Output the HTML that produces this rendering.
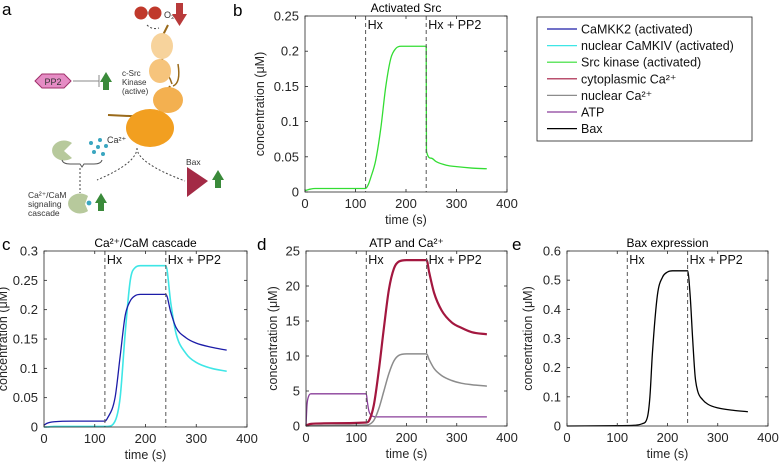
<!DOCTYPE html>
<html><head><meta charset="utf-8"><style>
body{margin:0;background:#fff;}
svg{display:block;font-family:"Liberation Sans",Arial,sans-serif;}
</style></head><body>
<svg id="fig" width="780" height="465" viewBox="0 0 780 465">
<g id="panel-a">
  <text x="2" y="15" font-size="17">a</text>
  <line x1="142" y1="13" x2="155" y2="13" stroke="#aaa" stroke-width="3"/>
  <circle cx="141" cy="13" r="6.5" fill="#c0392b"/>
  <circle cx="155" cy="13" r="6.5" fill="#c0392b"/>
  <text x="164" y="18" font-size="9" fill="#333">O₂</text>
  <path d="M176 3h7v11h4l-7.5 12l-7.5-12h4z" fill="#b83a3a"/>
  <path d="M147 25q5 5 12 3" stroke="#444" fill="none" stroke-dasharray="2,2"/>
  <path d="M168 25l-6 12M163 56l-2 8M170 86l-2 4M150 117l-42 -2" stroke="#9a6a1a" stroke-width="2" fill="none"/>
  <path d="M173 86q8 -3 5 -22M172 84q-3 -10 -9 -14" stroke="#9a6a1a" stroke-width="1.5" fill="none"/>
  <ellipse cx="162" cy="46" rx="11" ry="13" fill="#f7d39c"/>
  <ellipse cx="160" cy="71" rx="11" ry="12" fill="#f6c47c"/>
  <ellipse cx="168" cy="100" rx="15" ry="13" fill="#f3b050"/>
  <ellipse cx="150" cy="128" rx="24" ry="19" fill="#f29f20"/>
  <text x="122" y="76" font-size="8" fill="#333">c-Src</text>
  <text x="122" y="85" font-size="8" fill="#333">Kinase</text>
  <text x="122" y="94" font-size="8" fill="#333">(active)</text>
  <polygon points="35,81 42,74 64,74 71,81 64,88 42,88" fill="#e58cc4" stroke="#a0306a"/>
  <text x="53" y="85" font-size="9" text-anchor="middle" fill="#333">PP2</text>
  <line x1="73" y1="81" x2="99" y2="81" stroke="#888"/><line x1="99" y1="75" x2="99" y2="87" stroke="#888"/>
  <path d="M103 90v-8h-3l6-10l6 10h-3v8z" fill="#3a8a3a"/>
  <path d="M72 143a12 10 0 1 0 0 15l-8-7z" fill="#b7c99c"/>
  <g fill="#3aa6c0"><circle cx="91" cy="143" r="2"/><circle cx="100" cy="140" r="2"/><circle cx="98" cy="147" r="2"/><circle cx="106" cy="146" r="2"/><circle cx="94" cy="152" r="2"/><circle cx="103" cy="154" r="2"/></g>
  <text x="107" y="143" font-size="9" fill="#333">Ca²⁺</text>
  <path d="M62 160q1 4 8 4h10l2 3l2-3h10q7 0 8-4" stroke="#555" fill="none"/>
  <path d="M80 168v25" stroke="#444" stroke-dasharray="2,2"/>
  <path d="M137 148q0 15 -40 32M137 148q0 15 48 33" stroke="#444" fill="none" stroke-dasharray="2,2"/>
  <path d="M88 196a12 10 0 1 0 0 15l-3-7z" fill="#b7c99c"/>
  <circle cx="89" cy="203" r="2.4" fill="#3aa6c0"/>
  <path d="M98 211v-8h-3l6-10l6 10h-3v8z" fill="#3a8a3a"/>
  <text x="28" y="198" font-size="8.5" fill="#333">Ca²⁺/CaM</text>
  <text x="28" y="207" font-size="8.5" fill="#333">signaling</text>
  <text x="28" y="216" font-size="8.5" fill="#333">cascade</text>
  <text x="186" y="165" font-size="8.5" fill="#333">Bax</text>
  <polygon points="187,167 208,181 187,197" fill="#a32a45"/>
  <path d="M215 188v-8h-3l6-10l6 10h-3v8z" fill="#3a8a3a"/>
</g>
<g id="legend">
  <rect x="537" y="17" width="215" height="124" fill="#fff" stroke="#222" stroke-width="0.8"/>
</g>
</svg>
<script>
// ---- data ----
const panelBTitle = "Activated Src";
const srcTimes = [0,5,10,20,50,100,120,125,130,140,150,160,170,180,190,200,240,240.5,250,260,280,300,330,360];
const srcValues = [0.002,0.003,0.004,0.005,0.005,0.005,0.005,0.01,0.02,0.045,0.09,0.15,0.19,0.204,0.207,0.207,0.207,0.058,0.048,0.043,0.038,0.036,0.034,0.033];
const camTimes = [0,5,20,60,120,125,140,150,160,170,180,190,200,240,250,260,280,300,330,360];
const camkk2Values = [0.003,0.006,0.009,0.010,0.010,0.015,0.05,0.12,0.19,0.215,0.224,0.226,0.226,0.226,0.195,0.17,0.152,0.143,0.136,0.131];
const camkivValues = [0,0,0.001,0.001,0.001,0.001,0.01,0.05,0.16,0.25,0.272,0.275,0.275,0.275,0.21,0.16,0.125,0.11,0.1,0.095];
const caTimes = [0,10,60,120,125,135,145,155,165,175,185,200,240,245,255,270,290,310,330,360];
const cytoCaValues = [0.1,0.3,0.4,0.5,0.7,3,8,14,19.5,22.5,23.5,23.7,23.7,22,19,16.5,14.8,14,13.4,13.1];
const nucCaValues = [0,0.05,0.1,0.15,0.2,0.8,2.5,5,7.5,9.3,10.1,10.3,10.3,9.5,8.2,7.2,6.5,6.1,5.9,5.7];
const atpTimes = [0,2,5,10,120,122,125,130,140,150,360];
const atpValues = [0,3,4.2,4.6,4.6,3.5,2.2,1.5,1.3,1.3,1.3];
const baxTimes = [0,100,130,150,160,165,170,180,190,200,210,240,245,250,255,260,270,280,300,330,360];
const baxValues = [0,0.001,0.002,0.008,0.03,0.1,0.25,0.45,0.51,0.528,0.532,0.532,0.45,0.3,0.17,0.12,0.09,0.075,0.062,0.054,0.049];
const xTicks = [0,100,200,300,400];
const yTicksB = [0,0.05,0.1,0.15,0.2,0.25];
const yTicksC = [0,0.05,0.1,0.15,0.2,0.25,0.3];
const yTicksD = [0,5,10,15,20,25];
const yTicksE = [0,0.1,0.2,0.3,0.4,0.5,0.6];
const eventTimes = [120,240];
const eventLabels = ["Hx","Hx + PP2"];
const legendLabels = ["CaMKK2 (activated)","nuclear CaMKIV (activated)","Src kinase (activated)","cytoplasmic Ca²⁺","nuclear Ca²⁺","ATP","Bax"];
const legendColors = ["#1c1ca8","#3ee6e6","#33dd33","#a3173f","#8c8c8c","#8a3f9a","#000000"];

const NS="http://www.w3.org/2000/svg";
const svg=document.getElementById('fig');
function mk(tag,attrs,parent,text){const e=document.createElementNS(NS,tag);for(const k in attrs)e.setAttribute(k,attrs[k]);if(text!==undefined)e.textContent=text;(parent||svg).appendChild(e);return e;}

// monotone cubic path (Fritsch-Carlson)
function monoPath(px,py){
  const n=px.length;if(n<3)return px.map((x,i)=>(i?'L':'M')+x+' '+py[i]).join(' ');
  const d=[],m=new Array(n);
  for(let i=0;i<n-1;i++)d.push((py[i+1]-py[i])/(px[i+1]-px[i]));
  m[0]=d[0];m[n-1]=d[n-2];
  for(let i=1;i<n-1;i++){m[i]=(d[i-1]*d[i]<=0)?0:(d[i-1]+d[i])/2;}
  for(let i=0;i<n-1;i++){
    if(d[i]===0){m[i]=0;m[i+1]=0;continue;}
    const a=m[i]/d[i],b=m[i+1]/d[i],s=a*a+b*b;
    if(s>9){const t=3/Math.sqrt(s);m[i]=t*a*d[i];m[i+1]=t*b*d[i];}
  }
  let p='M'+px[0].toFixed(2)+' '+py[0].toFixed(2);
  for(let i=0;i<n-1;i++){
    const h=(px[i+1]-px[i])/3;
    p+=` C${(px[i]+h).toFixed(2)} ${(py[i]+m[i]*h).toFixed(2)} ${(px[i+1]-h).toFixed(2)} ${(py[i+1]-m[i+1]*h).toFixed(2)} ${px[i+1].toFixed(2)} ${py[i+1].toFixed(2)}`;
  }
  return p;
}

function panel(o){
  const g=mk('g',{});
  
  
  const xs=t=>o.L+(t-0)/(400)*(o.R-o.L);
  const ys=v=>o.B-(v-o.ymin)/(o.ymax-o.ymin)*(o.B-o.T);
  const lbl=mk('text',{x:o.lx,y:o.ly,'font-size':17},g,o.id);
  
  
  const tt=mk('text',{x:(o.L+o.R)/2,y:o.T-4,'font-size':12,'text-anchor':'middle'},g,o.title);
  
  
  o.series.forEach(s=>{
    const d=monoPath(s.t.map(xs),s.v.map(ys));
    const p=mk('path',{d:d,fill:'none',stroke:s.c,'stroke-width':s.w||1.3,'stroke-linejoin':'round'},g);
    
    
  });
  eventTimes.forEach((et,i)=>{
    const ln=mk('line',{x1:xs(et),x2:xs(et),y1:o.T,y2:o.B,stroke:'#555','stroke-width':1,'stroke-dasharray':'4,3'},g);
    
    
    const tx=mk('text',{x:xs(et)+2,y:o.T+13,'font-size':12.5,fill:'#111'},g,eventLabels[i]);
    
    
  });
  const bx=mk('rect',{x:o.L,y:o.T,width:o.R-o.L,height:o.B-o.T,fill:'none',stroke:'#262626','stroke-width':0.8},g);
  
  
  xTicks.forEach(t=>{
    const x=xs(t);
    mk('line',{x1:x,x2:x,y1:o.B,y2:o.B-3,stroke:'#262626','stroke-width':0.8},g);
    mk('line',{x1:x,x2:x,y1:o.T,y2:o.T+3,stroke:'#262626','stroke-width':0.8},g);
    const tl=mk('text',{x:x,y:o.B+16,'font-size':13,'text-anchor':'middle',fill:'#262626'},g,String(t));
    
    
  });
  o.yt.forEach(v=>{
    const y=ys(v);
    mk('line',{x1:o.L,x2:o.L+3,y1:y,y2:y,stroke:'#262626','stroke-width':0.8},g);
    mk('line',{x1:o.R,x2:o.R-3,y1:y,y2:y,stroke:'#262626','stroke-width':0.8},g);
    const tl=mk('text',{x:o.L-6,y:y+4.5,'font-size':13,'text-anchor':'end',fill:'#262626'},g,String(v));
    
    
  });
  const xl=mk('text',{x:(o.L+o.R)/2,y:o.B+32,'font-size':12.5,'text-anchor':'middle',fill:'#262626'},g,'time (s)');
  
  
  const cy=(o.T+o.B)/2, cx=o.L-o.yoff;
  const yl=mk('text',{x:cx,y:cy,'font-size':12.5,'text-anchor':'middle',fill:'#262626',transform:`rotate(-90 ${cx} ${cy})`},g,'concentration (μM)');
  
  
}

panel({id:'b',title:panelBTitle,L:305,R:507,T:16,B:192,ymin:0,ymax:0.25,yt:yTicksB,lx:233,ly:16,yoff:41,
  series:[{name:'src-kinase-line',t:srcTimes,v:srcValues,c:legendColors[2]}]});
panel({id:'c',title:'Ca²⁺/CaM cascade',L:44,R:247,T:251,B:427,ymin:0,ymax:0.3,yt:yTicksC,lx:2,ly:250,yoff:37,
  series:[{name:'camkiv-line',t:camTimes,v:camkivValues,c:legendColors[1],w:1.6},{name:'camkk2-line',t:camTimes,v:camkk2Values,c:legendColors[0]}]});
panel({id:'d',title:'ATP and Ca²⁺',L:306,R:507,T:251,B:426,ymin:0,ymax:25,yt:yTicksD,lx:257,ly:250,yoff:29,
  series:[{name:'atp-line',t:atpTimes,v:atpValues,c:legendColors[5]},{name:'nuclear-ca-line',t:caTimes,v:nucCaValues,c:legendColors[4],w:1.5},{name:'cytoplasmic-ca-line',t:caTimes,v:cytoCaValues,c:legendColors[3],w:2.2}]});
panel({id:'e',title:'Bax expression',L:567,R:768,T:251,B:426,ymin:0,ymax:0.6,yt:yTicksE,lx:512,ly:250,yoff:35,
  series:[{name:'bax-line',t:baxTimes,v:baxValues,c:legendColors[6]}]});

const lg=document.getElementById('legend');
legendLabels.forEach((lab,i)=>{
  const y=29+i*16.6;
  const ln=mk('line',{x1:547,x2:577,y1:y,y2:y,stroke:legendColors[i],'stroke-width':1.2},lg);
  
  
  const tx=mk('text',{x:581,y:y+4.5,'font-size':12.5,fill:'#111'},lg,lab);
  
  
});
</script>
</body></html>
